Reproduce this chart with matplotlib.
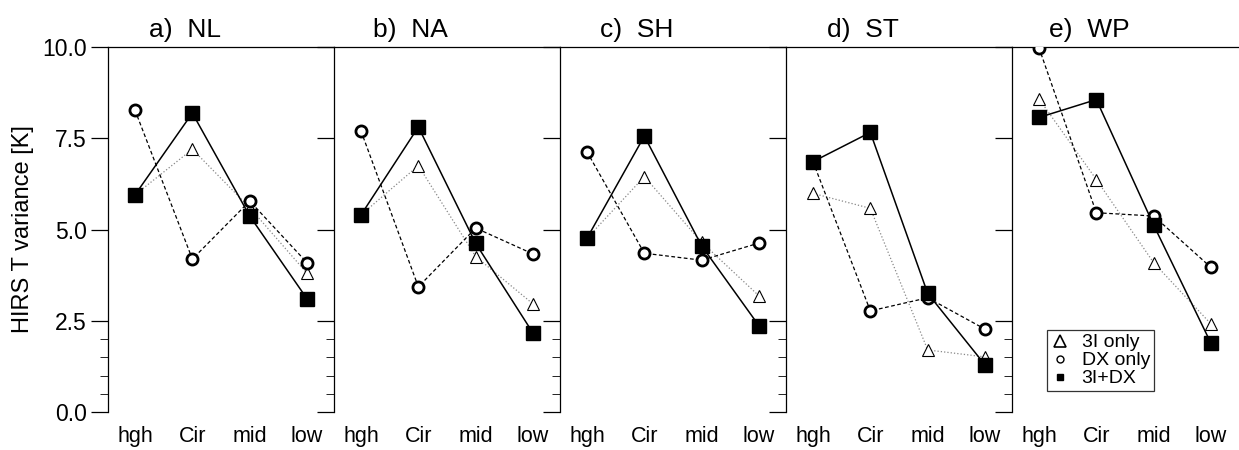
"""HIRS T variance by cloud type for five regions"""

import matplotlib
matplotlib.use('Agg')
from matplotlib import pyplot as plt
from matplotlib.lines import Line2D

plt.rcParams['font.family'] = ['Liberation Sans Narrow', 'Liberation Sans', 'DejaVu Sans']

CLOUD_TYPES = ['hgh', 'Cir', 'mid', 'low']
REGIONS = ['a)  NL', 'b)  NA', 'c)  SH', 'd)  ST', 'e)  WP']

# 3I only (triangles)
TRI_VALUES = [
    [5.95, 7.20, 5.60, 3.80],
    [5.40, 6.75, 4.26, 2.96],
    [4.76, 6.45, 4.65, 3.18],
    [5.99, 5.58, 1.70, 1.51],
    [8.58, 6.37, 4.09, 2.41],
]
# DX only (circles)
DX_VALUES = [
    [8.27, 4.19, 5.78, 4.09],
    [7.70, 3.43, 5.04, 4.33],
    [7.13, 4.35, 4.16, 4.63],
    [6.86, 2.77, 3.13, 2.27],
    [9.98, 5.46, 5.37, 3.96],
]
# 3I+DX (squares)
BOTH_VALUES = [
    [5.95, 8.19, 5.37, 3.10],
    [5.40, 7.81, 4.62, 2.16],
    [4.76, 7.56, 4.55, 2.36],
    [6.86, 7.66, 3.25, 1.29],
    [8.07, 8.56, 5.12, 1.88],
]


def main():
    """Main method"""

    fig = plt.figure(figsize=(12.39, 4.5), dpi=100)
    left, bottom, width, height = 0.0872, 0.0844, 0.1824, 0.8111
    xs = list(range(len(CLOUD_TYPES)))

    for i, region in enumerate(REGIONS):
        ax = fig.add_axes([left + i * width, bottom, width, height])
        ax.plot(xs, TRI_VALUES[i], color='#888888', linestyle=':', linewidth=0.9,
                marker='^', markersize=8.5, markerfacecolor='white', markeredgecolor='black',
                markeredgewidth=0.8, zorder=2)
        ax.plot(xs, DX_VALUES[i], color='black', linestyle=(0, (3, 2)), linewidth=0.9,
                marker='o', markersize=8, markerfacecolor='white', markeredgecolor='black',
                markeredgewidth=2.0, zorder=3)
        ax.plot(xs, BOTH_VALUES[i], color='black', linestyle='-', linewidth=1.1,
                marker='s', markersize=9.5, markerfacecolor='black', markeredgecolor='black',
                zorder=4)

        ax.set_xlim(-0.47, 3.47)
        ax.set_ylim(0, 10)
        ax.set_xticks(xs)
        ax.set_xticklabels(CLOUD_TYPES, fontsize=15.5)
        ax.tick_params(axis='x', length=0, pad=10)
        ax.set_yticks([0, 2.5, 5, 7.5, 10])
        ax.set_yticks([0.5, 1.0, 1.5, 2.0], minor=True)
        ax.tick_params(axis='y', which='major', direction='out', length=12, width=0.9)
        ax.tick_params(axis='y', which='minor', direction='out', length=6, width=0.6)
        for side in ['right', 'bottom']:
            ax.spines[side].set_visible(False)
        ax.spines['left'].set_linewidth(0.9)
        ax.spines['top'].set_linewidth(0.9)
        ax.set_title(region, x=0.34, fontsize=19, pad=7, family='Liberation Sans')

        if i == 0:
            ax.set_yticklabels(['0.0', '2.5', '5.0', '7.5', '10.0'], fontsize=16.5)
            ax.set_ylabel('HIRS T variance [K]', fontsize=17, labelpad=6)
        else:
            ax.set_yticklabels([])

        if i == len(REGIONS) - 1:
            handles = [
                Line2D([], [], linestyle='none', marker='^', markersize=8,
                       markerfacecolor='white', markeredgecolor='black', markeredgewidth=1.2),
                Line2D([], [], linestyle='none', marker='o', markersize=5,
                       markerfacecolor='white', markeredgecolor='black', markeredgewidth=1.0),
                Line2D([], [], linestyle='none', marker='s', markersize=5,
                       markerfacecolor='black', markeredgecolor='black'),
            ]
            leg = ax.legend(handles, ['3I only', 'DX only', '3I+DX'], loc='lower left',
                            bbox_to_anchor=(0.11, 0.03), fontsize=14, frameon=True,
                            fancybox=False, edgecolor='black', handlelength=1.0,
                            handletextpad=0.6, labelspacing=0.02, borderpad=0.2)
            leg.get_frame().set_linewidth(0.9)

    plt.savefig('out.png', dpi=100)


if __name__ == '__main__':
    main()
